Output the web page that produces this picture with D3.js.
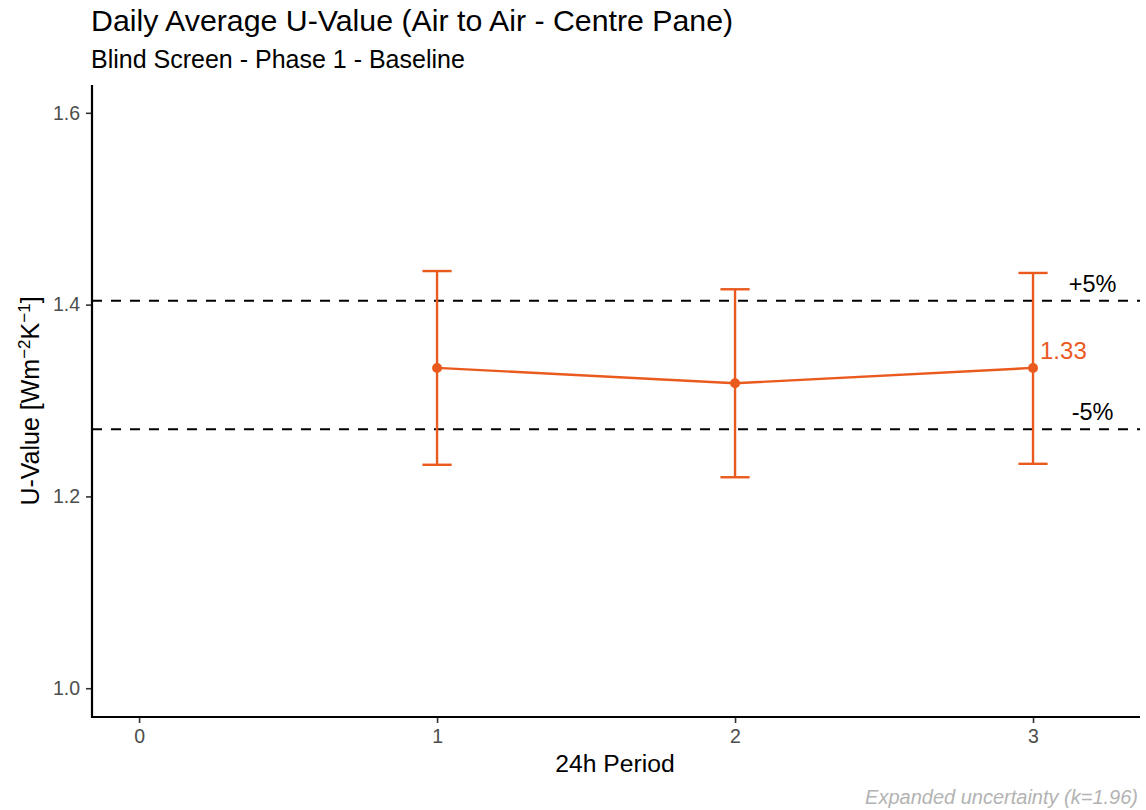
<!DOCTYPE html>
<html>
<head>
<meta charset="utf-8">
<script src="https://cdn.jsdelivr.net/npm/d3@7"></script>
<style>
  html, body { margin: 0; padding: 0; background: #fff; }
  svg { display: block; font-family: "Liberation Sans", Arial, sans-serif; }
</style>
</head>
<body>
<svg id="chart" width="1146" height="810"></svg>
<script>
// Daily average U-value per 24h period, with expanded uncertainty (k=1.96)
const periods = [1, 2, 3];
const uValues = [1.334, 1.318, 1.334];
const uLower = [1.233, 1.220, 1.234];
const uUpper = [1.435, 1.416, 1.433];
const lastLabel = ["1.33"];

// ±5% reference band
const bandValues = [1.404, 1.270];
const bandLabels = ["+5%", "-5%"];

const xTicks = [0, 1, 2, 3];
const yTicks = [1.0, 1.2, 1.4, 1.6];

const titleText = "Daily Average U-Value (Air to Air - Centre Pane)";
const subtitleText = "Blind Screen - Phase 1 - Baseline";
const xTitle = "24h Period";
const captionText = "Expanded uncertainty (k=1.96)";

const orange = "#EA5A1E";

const svg = d3.select("#chart");
const margin = { left: 92, right: 6, top: 85, bottom: 93 };
const W = 1146, H = 810;

const x = d3.scaleLinear().domain([-0.158, 3.359]).range([margin.left, W - margin.right]);
const y = d3.scaleLinear().domain([0.970, 1.629]).range([H - margin.bottom, margin.top]);

// Titles
svg.append("text").attr("x", 91).attr("y", 31)
  .attr("font-size", 30.3).attr("fill", "#000").text(titleText);
svg.append("text").attr("x", 91).attr("y", 68)
  .attr("font-size", 25).attr("fill", "#000").text(subtitleText);

// Reference lines
const band = svg.append("g");
band.selectAll("line").data(bandValues).join("line")
  .attr("x1", x.range()[0]).attr("x2", x.range()[1])
  .attr("y1", d => y(d)).attr("y2", d => y(d))
  .attr("stroke", "#000").attr("stroke-width", 2)
  .attr("stroke-dasharray", "10,9");
band.selectAll("text").data(bandValues).join("text")
  .attr("x", x(3.2)).attr("y", d => y(d) - 9)
  .attr("text-anchor", "middle")
  .attr("font-size", 23.5).attr("fill", "#000")
  .text((d, i) => bandLabels[i]);

// Error bars
const capHalf = 0.049;
const eb = svg.append("g").attr("stroke", orange).attr("stroke-width", 2.4).attr("fill", "none");
periods.forEach((p, i) => {
  eb.append("line").attr("x1", x(p)).attr("x2", x(p)).attr("y1", y(uLower[i])).attr("y2", y(uUpper[i]));
  eb.append("line").attr("x1", x(p - capHalf)).attr("x2", x(p + capHalf)).attr("y1", y(uLower[i])).attr("y2", y(uLower[i]));
  eb.append("line").attr("x1", x(p - capHalf)).attr("x2", x(p + capHalf)).attr("y1", y(uUpper[i])).attr("y2", y(uUpper[i]));
});

// Mean line and points
const pts = periods.map((p, i) => [p, uValues[i]]);
svg.append("path").datum(pts)
  .attr("d", d3.line().x(d => x(d[0])).y(d => y(d[1])))
  .attr("fill", "none").attr("stroke", orange).attr("stroke-width", 2.4);
svg.append("g").selectAll("circle").data(pts).join("circle")
  .attr("cx", d => x(d[0])).attr("cy", d => y(d[1])).attr("r", 5)
  .attr("fill", orange);

// Value label on the last point
svg.append("text")
  .attr("x", x(periods[2]) + 7).attr("y", y(uValues[2]) - 9)
  .attr("font-size", 24).attr("fill", orange).text(lastLabel[0]);

// Axes (ticks and labels from d3, axis lines drawn separately)
const xAxis = svg.append("g").attr("transform", `translate(0,${H - margin.bottom})`)
  .call(d3.axisBottom(x).tickValues(xTicks).tickFormat(d3.format("d")).tickSizeOuter(0).tickSize(6).tickPadding(6));
const yAxis = svg.append("g").attr("transform", `translate(${margin.left},0)`)
  .call(d3.axisLeft(y).tickValues(yTicks).tickFormat(d3.format(".1f")).tickSizeOuter(0).tickSize(6).tickPadding(6));
[xAxis, yAxis].forEach(a => {
  a.select(".domain").remove();
  a.selectAll(".tick line").attr("stroke", "#333").attr("stroke-width", 1.6);
  a.selectAll(".tick text").attr("fill", "#4D4D4D").attr("font-size", 19.5)
    .attr("font-family", "'Liberation Sans', Arial, sans-serif");
});
svg.append("path")
  .attr("d", `M${x.range()[0]},${y.range()[1]}V${y.range()[0]}H${x.range()[1]}`)
  .attr("fill", "none").attr("stroke", "#000").attr("stroke-width", 2.2);

// Axis titles
svg.append("text").attr("x", 615).attr("y", 772)
  .attr("text-anchor", "middle").attr("font-size", 24.7).attr("fill", "#000").text(xTitle);

const yTitle = svg.append("text")
  .attr("transform", `translate(39,${(y.range()[0] + y.range()[1]) / 2}) rotate(-90)`)
  .attr("text-anchor", "middle").attr("font-size", 25).attr("fill", "#000");
yTitle.append("tspan").text("U-Value [Wm");
yTitle.append("tspan").attr("dy", -9).attr("font-size", 17).text("\u22122");
yTitle.append("tspan").attr("dy", 9).text("K");
yTitle.append("tspan").attr("dy", -9).attr("font-size", 17).text("\u22121");
yTitle.append("tspan").attr("dy", 9).text("]");

// Caption
svg.append("text").attr("x", 1138).attr("y", 804)
  .attr("text-anchor", "end").attr("font-size", 20).attr("font-style", "italic")
  .attr("fill", "#B3B3B3").text(captionText);
</script>
</body>
</html>
